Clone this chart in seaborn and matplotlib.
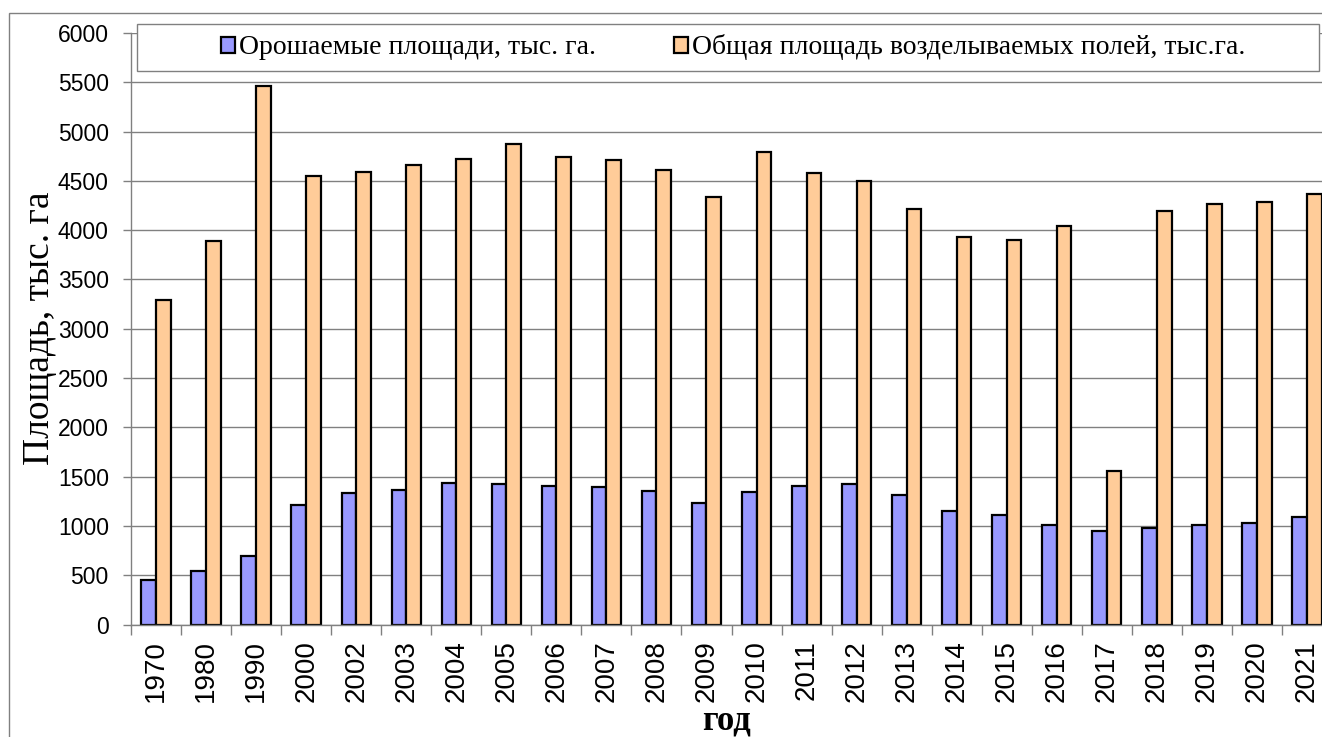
import matplotlib
matplotlib.use("Agg")
import matplotlib.pyplot as plt
from matplotlib.patches import Patch, Rectangle
from matplotlib.ticker import FixedLocator
import pandas as pd
import seaborn as sns

# data
years = ["1970", "1980", "1990", "2000", "2002", "2003", "2004", "2005", "2006", "2007", "2008", "2009",
         "2010", "2011", "2012", "2013", "2014", "2015", "2016", "2017", "2018", "2019", "2020", "2021"]
irrigated = [450, 540, 695, 1210, 1335, 1360, 1440, 1425, 1400, 1395, 1355, 1235,
             1340, 1400, 1430, 1310, 1155, 1110, 1005, 950, 975, 1005, 1025, 1090]
total = [3290, 3890, 5465, 4545, 4590, 4660, 4725, 4870, 4745, 4715, 4610, 4340,
         4795, 4580, 4495, 4210, 3935, 3905, 4040, 1560, 4190, 4270, 4285, 4365]
series_names = ["Орошаемые площади, тыс. га.", "Общая площадь возделываемых полей, тыс.га."]
colors = ["#9999FF", "#FFCC99"]
y_ticks = list(range(0, 6001, 500))

df = pd.DataFrame({
	"year": years * 2,
	"series": [series_names[0]] * len(years) + [series_names[1]] * len(years),
	"value": irrigated + total,
})

SERIF = "Liberation Serif"
SANS = "Liberation Sans"
W, H = 1322, 737

fig = plt.figure(figsize=(W / 100, H / 100), dpi=100)
ax = fig.add_axes([131 / W, 112.5 / H, 1201 / W, 591.5 / H])

sns.barplot(data=df, x="year", y="value", hue="series", palette=colors, saturation=1,
			edgecolor="black", linewidth=1.6, width=0.587, errorbar=None, legend=False, ax=ax)

ax.set_xlim(-0.5, len(years) - 0.5)
ax.set_ylim(0, 6000)
ax.set_yticks(y_ticks)
ax.set_yticklabels([str(v) for v in y_ticks], fontfamily=SANS, fontsize=16.5)
ax.set_xticks(range(len(years)))
ax.set_xticklabels(years, rotation=90, fontfamily=SANS, fontsize=20)
ax.xaxis.set_minor_locator(FixedLocator([i - 0.5 for i in range(len(years) + 1)]))
ax.tick_params(axis="x", which="major", length=0, pad=11)
ax.tick_params(axis="x", which="minor", length=7, color="#808080", width=1)
ax.tick_params(axis="y", length=6, color="#808080", width=1, pad=10)

ax.yaxis.grid(True, color="#808080", linewidth=1)
ax.set_axisbelow(True)
for side in ["top", "right"]:
	ax.spines[side].set_visible(False)
for side in ["left", "bottom"]:
	ax.spines[side].set_color("#808080")
	ax.spines[side].set_linewidth(1)

ax.set_ylabel("Площадь, тыс. га", fontfamily=SERIF, fontsize=27)
ax.yaxis.set_label_coords(-0.062, 0.501)
ax.set_xlabel("год", fontfamily=SERIF, fontsize=25, fontweight="bold")
ax.xaxis.set_label_coords(0.496, -0.135)

# legend box and outer chart frame
fig.add_artist(Rectangle((137 / W, 1 - 71 / H), (1319 - 137) / W, 47 / H, transform=fig.transFigure,
						 facecolor="white", edgecolor="#808080", linewidth=1, zorder=3))
fig.add_artist(Rectangle((9 / W, -0.1), 1.2, (H - 13) / H + 0.1, transform=fig.transFigure,
						 fill=False, edgecolor="#808080", linewidth=1, zorder=3))

handles = [Patch(facecolor=c, edgecolor="black", linewidth=1.6, label=n) for c, n in zip(colors, series_names)]
fig.legend(handles=handles, loc="center", bbox_to_anchor=(733 / W, 1 - 47.5 / H), ncol=2, frameon=False,
		   prop={"family": SERIF, "size": 20}, handlelength=0.5, handleheight=0.5,
		   handletextpad=0.15, columnspacing=2.8)

plt.savefig("out.png", dpi=100)
